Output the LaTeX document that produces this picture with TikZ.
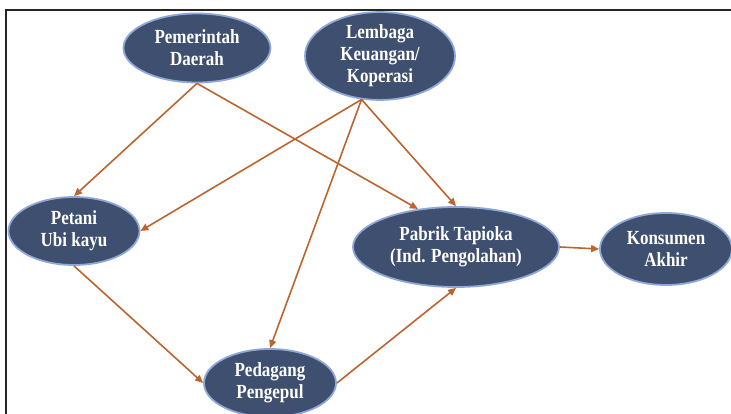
\documentclass[tikz,border=0pt]{standalone}
\usepackage{fontspec}
\newfontfamily\nodefont{Liberation Serif}[FakeStretch=0.85]
\usetikzlibrary{shapes.geometric,arrows.meta}
\definecolor{nodefill}{HTML}{3E4F6F}
\definecolor{nodeedge}{HTML}{8FA8D8}
\definecolor{arrowcol}{HTML}{BC6430}
\definecolor{framecol}{HTML}{262626}
\tikzset{
  actor/.style={ellipse, fill=nodefill, draw=nodeedge, line width=1.8pt,
    inner sep=0pt, align=center, text=white,
    font=\nodefont\bfseries\fontsize{20}{22}\selectfont},
  flow/.style={draw=arrowcol, line width=1.6pt,
    -{Triangle[length=8pt,width=7pt]}},
  framestyle/.style={draw=framecol, line width=2.5pt}
}
\begin{document}
\begin{tikzpicture}[x=1pt,y=-1pt]
\useasboundingbox (0,0) rectangle (731,414);
\coordinate (ftl) at (6,10);
\coordinate (ftr) at (731,10);
\coordinate (fbl) at (6,414);
\draw[framestyle] (ftr) -- (ftl) -- (fbl);

\node[actor, minimum width=147pt, minimum height=69pt] (pem) at (197,48) {Pemerintah\\Daerah};
\node[actor, minimum width=150pt, minimum height=85pt] (lem) at (380,56) {Lembaga\\Keuangan/\\Koperasi};
\node[actor, minimum width=131pt, minimum height=68pt] (pet) at (74,231) {Petani\\Ubi kayu};
\node[actor, minimum width=206pt, minimum height=80pt] (pab) at (456,247) {Pabrik Tapioka\\(Ind. Pengolahan)};
\node[actor, minimum width=132pt, minimum height=72pt] (kon) at (666,249) {Konsumen\\Akhir};
\node[actor, minimum width=132pt, minimum height=68pt] (ped) at (270,383) {Pedagang\\Pengepul};

\draw[flow] (pem.south) -- (pet.north);
\draw[flow] (pem.south) -- (pab.135);
\draw[flow] (lem.247) -- (pet.east);
\draw[flow] (lem.247) -- (ped.north);
\draw[flow] (lem.247) -- (pab.north);
\draw[flow] (pet.south) -- (ped.west);
\draw[flow] (ped.east) -- (pab.south);
\draw[flow] (pab.east) -- (kon.west);
\end{tikzpicture}
\end{document}
